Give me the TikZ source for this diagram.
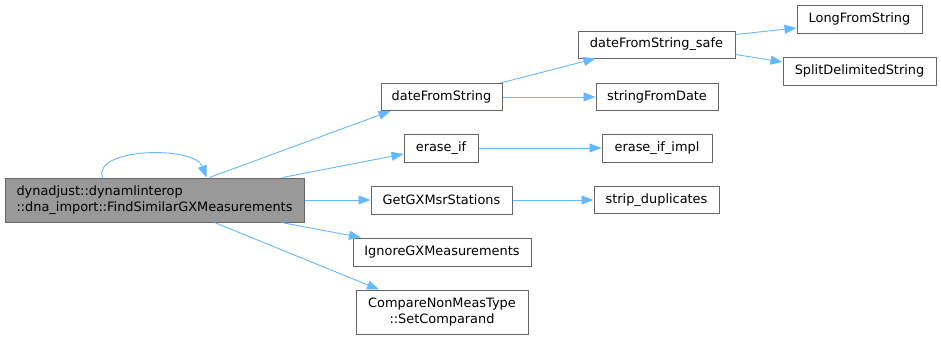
\documentclass[tikz,border=0pt]{standalone}
\usepackage{fontspec}
\setmainfont{DejaVu Sans}
\usetikzlibrary{arrows.meta}
\definecolor{edgeblue}{HTML}{63B8FF}
\definecolor{boxline}{HTML}{666666}
\definecolor{mainfill}{HTML}{999999}
\tikzset{
  fn/.style={draw=boxline, fill=white, line width=1pt, inner sep=0pt,
             font=\fontsize{12.9}{16.5}\selectfont, text=black},
  mainfn/.style={fn, fill=mainfill},
  call/.style={draw=edgeblue, line width=0.9pt,
               -{Triangle[length=12pt,width=9pt]}},
}
\begin{document}
\begin{tikzpicture}[x=1pt,y=-1pt]
\useasboundingbox (0,0) rectangle (941,340);

% caller
\node[mainfn, minimum width=299pt, minimum height=44pt, align=left] (main) at (154.5,200)
  {dynadjust::dynamlinterop\\::dna\_import::FindSimilarGXMeasurements};

% first level callees
\node[fn, minimum width=121pt, minimum height=27pt] (dfs) at (441.5,97) {dateFromString};
\node[fn, minimum width=74pt, minimum height=28pt] (erase) at (441,148) {erase\_if};
\node[fn, minimum width=141pt, minimum height=28pt] (getgx) at (441.5,200) {GetGXMsrStations};
\node[fn, minimum width=178pt, minimum height=28pt] (ignore) at (442,252) {IgnoreGXMeasurements};
\node[fn, minimum width=172pt, minimum height=44pt, align=center] (compare) at (442,312)
  {CompareNonMeasType\\::SetComparand};

% second level callees
\node[fn, minimum width=157pt, minimum height=27pt] (dfss) at (656.5,44.5) {dateFromString\_safe};
\node[fn, minimum width=122pt, minimum height=27pt] (sfd) at (657,97) {stringFromDate};
\node[fn, minimum width=110pt, minimum height=28pt] (eii) at (657,148) {erase\_if\_impl};
\node[fn, minimum width=125pt, minimum height=27pt] (strip) at (656.5,200) {strip\_duplicates};

% third level callees
\node[fn, minimum width=125pt, minimum height=28pt] (long) at (859.5,19) {LongFromString};
\node[fn, minimum width=153pt, minimum height=28pt] (split) at (859.5,71) {SplitDelimitedString};

% recursive call
\draw[call] ([xshift=-52pt]main.north) .. controls ([xshift=-62pt,yshift=30pt]main.north)
  and ([xshift=40pt,yshift=32pt]main.north) .. ([xshift=52pt]main.north);

% calls
\draw[call] ([xshift=55pt]main.north) -- ([xshift=-51pt]dfs.south);
\draw[call] ([xshift=128pt]main.north) -- ([yshift=-6pt]erase.west);
\draw[call] (main.east) -- (getgx.west);
\draw[call] ([xshift=127pt]main.south) -- ([xshift=-81pt]ignore.north);
\draw[call] ([xshift=60pt]main.south) -- ([xshift=-63pt]compare.north);

\draw[call] ([xshift=-2pt]dfs.north east) -- ([xshift=-61pt]dfss.south);
\draw[call] (dfs.east) -- (sfd.west);
\draw[call] (erase.east) -- (eii.west);
\draw[call] (getgx.east) -- (strip.west);

\draw[call] ([yshift=10pt]dfss.east) -- ([yshift=-9pt]long.west);
\draw[call] ([yshift=-10pt]dfss.east) -- ([yshift=9pt]split.west);
\end{tikzpicture}
\end{document}
